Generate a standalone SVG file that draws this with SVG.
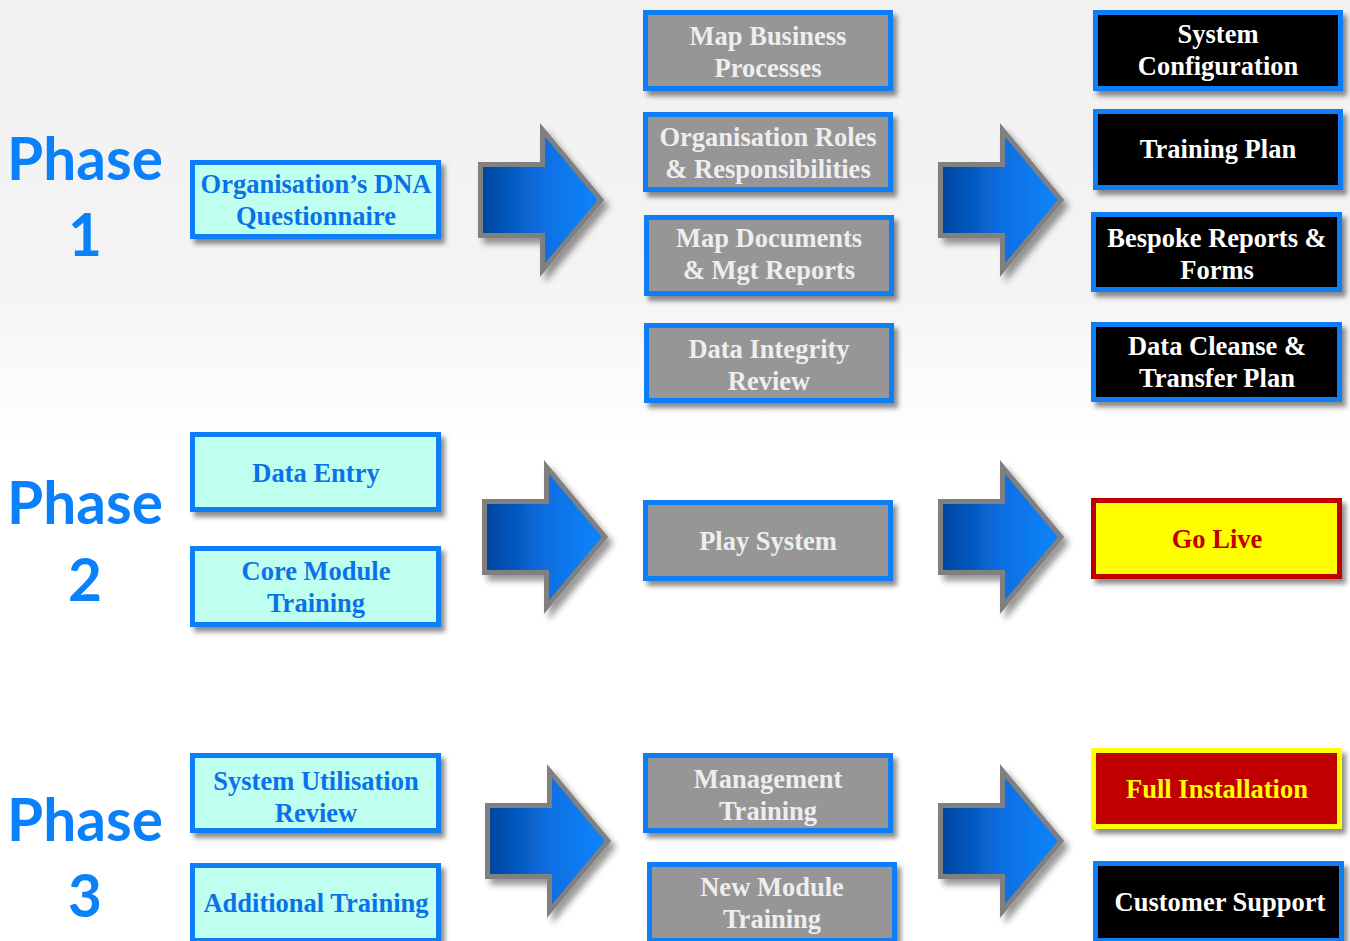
<svg xmlns="http://www.w3.org/2000/svg" width="1350" height="941" viewBox="0 0 1350 941">
  <defs>
    <linearGradient id="bg" x1="0" y1="0" x2="0" y2="1">
      <stop offset="0" stop-color="#f1f1f1"/>
      <stop offset="0.3" stop-color="#f4f4f4"/>
      <stop offset="0.47" stop-color="#ffffff"/>
      <stop offset="1" stop-color="#ffffff"/>
    </linearGradient>
    <linearGradient id="arrowFill" x1="0" y1="0" x2="1" y2="0">
      <stop offset="0" stop-color="#00449c"/>
      <stop offset="0.5" stop-color="#0a6ee0"/>
      <stop offset="1" stop-color="#0a86ff"/>
    </linearGradient>
    <filter id="shadow" x="-10%" y="-10%" width="125%" height="135%">
      <feDropShadow dx="4" dy="5" stdDeviation="2.5" flood-color="#000" flood-opacity="0.45"/>
    </filter>
    <filter id="ashadow" x="-10%" y="-10%" width="130%" height="130%">
      <feDropShadow dx="5" dy="6" stdDeviation="3" flood-color="#000" flood-opacity="0.4"/>
    </filter>
    <path id="arrow" d="M2.5,-35.5 L64.5,-35.5 L64.5,-70 L123,0 L64.5,70 L64.5,35.5 L2.5,35.5 Z"/>
  </defs>
  <style>
    .box rect { stroke-width: 5; filter: url(#shadow); }
    .cyan rect { fill: #bffff0; stroke: #0b7ef5; }
    .gray rect { fill: #969696; stroke: #0b7ef5; }
    .black rect { fill: #000000; stroke: #0b7ef5; }
    .live rect { fill: #ffff00; stroke: #c00000; }
    .full rect { fill: #c00000; stroke: #ffff00; }
    .box text { font-family: "Liberation Serif", "Times New Roman", serif; font-weight: bold; font-size: 26.5px; text-anchor: middle; }
    .cyan text { fill: #0a72e8; }
    .gray text { fill: #eeeeee; }
    .black text { fill: #ffffff; }
    .live text { fill: #c00000; }
    .full text { fill: #ffff00; }
    .phase text { font-family: Lato, "Open Sans", sans-serif; font-weight: bold; font-size: 58.5px; fill: #0a80fa; text-anchor: middle; }
    .arr { fill: url(#arrowFill); stroke: #808080; stroke-width: 5; stroke-linejoin: miter; filter: url(#ashadow); }
  </style>

  <rect x="0" y="0" width="1350" height="941" fill="url(#bg)"/>

  <g id="phase1" class="phase"><text x="85" y="180">Phase</text><text x="85" y="256">1</text></g>
  <g id="phase2" class="phase"><text x="85" y="524">Phase</text><text x="85" y="601">2</text></g>
  <g id="phase3" class="phase"><text x="85" y="841">Phase</text><text x="85" y="917">3</text></g>

  <g id="connectors">
    <use href="#arrow" class="arr" transform="translate(478,200)"/>
    <use href="#arrow" class="arr" transform="translate(938,200)"/>
    <use href="#arrow" class="arr" transform="translate(482,537)"/>
    <use href="#arrow" class="arr" transform="translate(938,537)"/>
    <use href="#arrow" class="arr" transform="translate(485,841)"/>
    <use href="#arrow" class="arr" transform="translate(938,841)"/>
  </g>

  <!-- Left column -->
  <g id="dna" class="box cyan"><rect x="192.5" y="162.5" width="246" height="74"/><text x="316" y="193">Organisation’s DNA</text><text x="316" y="225">Questionnaire</text></g>
  <g id="data-entry" class="box cyan"><rect x="192.5" y="434.5" width="246" height="75"/><text x="316" y="482">Data Entry</text></g>
  <g id="core-module" class="box cyan"><rect x="192.5" y="548.5" width="246" height="76"/><text x="316" y="580">Core Module</text><text x="316" y="612">Training</text></g>
  <g id="sys-util" class="box cyan"><rect x="192.5" y="755.5" width="246" height="75"/><text x="316" y="790">System Utilisation</text><text x="316" y="822">Review</text></g>
  <g id="add-training" class="box cyan"><rect x="192.5" y="865.5" width="246" height="75"/><text x="316" y="912">Additional Training</text></g>

  <!-- Middle column -->
  <g id="map-business" class="box gray"><rect x="645.5" y="12.5" width="245" height="76"/><text x="768" y="45">Map Business</text><text x="768" y="77">Processes</text></g>
  <g id="org-roles" class="box gray"><rect x="645.5" y="114.5" width="245" height="75"/><text x="768" y="146">Organisation Roles</text><text x="768" y="178">&amp; Responsibilities</text></g>
  <g id="map-docs" class="box gray"><rect x="646.5" y="217.5" width="245" height="76"/><text x="769" y="247">Map Documents</text><text x="769" y="279">&amp; Mgt Reports</text></g>
  <g id="data-integrity" class="box gray"><rect x="646.5" y="325.5" width="245" height="75"/><text x="769" y="358">Data Integrity</text><text x="769" y="390">Review</text></g>
  <g id="play-system" class="box gray"><rect x="645.5" y="502.5" width="245" height="76"/><text x="768" y="550">Play System</text></g>
  <g id="mgmt-training" class="box gray"><rect x="645.5" y="755.5" width="245" height="75"/><text x="768" y="788">Management</text><text x="768" y="820">Training</text></g>
  <g id="new-module" class="box gray"><rect x="649.5" y="864.5" width="245" height="76"/><text x="772" y="896">New Module</text><text x="772" y="928">Training</text></g>

  <!-- Right column -->
  <g id="sys-config" class="box black"><rect x="1095.5" y="12.5" width="245" height="76"/><text x="1218" y="43">System</text><text x="1218" y="75">Configuration</text></g>
  <g id="training-plan" class="box black"><rect x="1095.5" y="111.5" width="245" height="76"/><text x="1218" y="158">Training Plan</text></g>
  <g id="bespoke" class="box black"><rect x="1093.5" y="214.5" width="246" height="75"/><text x="1217" y="247">Bespoke Reports &amp;</text><text x="1217" y="279">Forms</text></g>
  <g id="data-cleanse" class="box black"><rect x="1093.5" y="324.5" width="246" height="75"/><text x="1217" y="355">Data Cleanse &amp;</text><text x="1217" y="387">Transfer Plan</text></g>
  <g id="go-live" class="box live"><rect x="1093.5" y="500.5" width="246" height="76"/><text x="1217" y="548">Go Live</text></g>
  <g id="full-install" class="box full"><rect x="1093.5" y="750.5" width="246" height="76"/><text x="1217" y="798">Full Installation</text></g>
  <g id="customer-support" class="box black"><rect x="1095.5" y="863.5" width="246" height="77"/><text x="1220" y="911">Customer Support</text></g>
</svg>
